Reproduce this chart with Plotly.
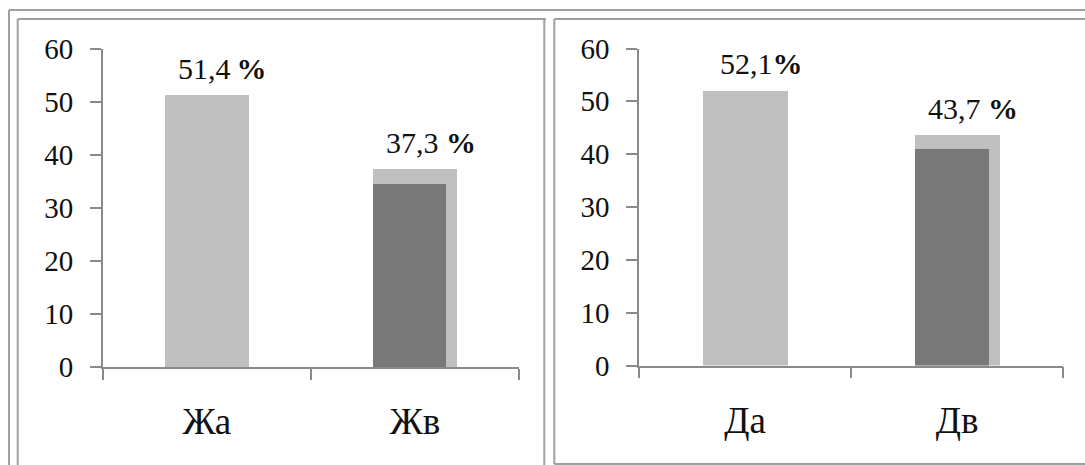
import plotly.graph_objects as go

# Category names for the two panels
categories_left = ["Жа", "Жв"]
categories_right = ["Да", "Дв"]

# Overall share per category (light bars, labelled)
share_left = [51.4, 37.3]
share_right = [52.1, 43.7]

# Inner part shown as a darker bar inside the second category
inner_left = [None, 34.5]
inner_right = [None, 41.1]

# Separator between number and percent sign in each label
label_gap_left = ["\u2009", " "]
label_gap_right = ["", " "]

y_ticks = [0, 10, 20, 30, 40, 50, 60]

W, H = 1085, 465
LIGHT = "#bfbfbf"
DARK = "#787878"
AXIS = "#8a8a8a"
FRAME = "#a0a0a0"
TEXT = "#111111"
FONT = "Liberation Serif, Times New Roman, serif"


def px_x(v):
    return v / W


def px_y(v):
    return 1 - v / H


def fmt(v, gap):
    return f"{v:.1f}".replace(".", ",") + gap + "<b>%</b>"


fig = go.Figure()

panels = [
    ("x", "y", categories_left, share_left, inner_left, label_gap_left),
    ("x2", "y2", categories_right, share_right, inner_right, label_gap_right),
]

for xa, ya, cats, share, inner, gaps in panels:
    fig.add_trace(go.Bar(
        x=cats, y=share, xaxis=xa, yaxis=ya,
        width=0.4, offset=-0.2,
        marker=dict(color=LIGHT, line=dict(width=0)),
        hoverinfo="skip", showlegend=False,
    ))
    fig.add_trace(go.Bar(
        x=cats, y=inner, xaxis=xa, yaxis=ya,
        width=0.35, offset=-0.2,
        marker=dict(color=DARK, line=dict(width=0)),
        hoverinfo="skip", showlegend=False,
    ))
    for c, v, g in zip(cats, share, gaps):
        fig.add_annotation(
            x=c, y=v, xref=xa, yref=ya,
            text=fmt(v, g), showarrow=False,
            xanchor="center", yanchor="bottom",
            xshift=16, yshift=8,
            font=dict(family=FONT, size=30, color=TEXT),
        )

xaxis_common = dict(
    type="category", range=[-0.5, 1.5], tickson="boundaries",
    ticks="outside", ticklen=11, tickcolor=AXIS, tickwidth=1.5,
    showline=True, linecolor=AXIS, linewidth=1.5,
    showgrid=False, zeroline=False, fixedrange=True, automargin=False,
    tickfont=dict(family=FONT, size=37, color=TEXT),
    ticklabelstandoff=21,
)
yaxis_common = dict(
    range=[0, 60], tickvals=y_ticks,
    ticks="outside", ticklen=11, tickcolor=AXIS, tickwidth=1.5,
    showline=True, linecolor=AXIS, linewidth=1.5,
    showgrid=False, zeroline=False, fixedrange=True, automargin=False,
    tickfont=dict(family=FONT, size=29, color=TEXT),
    ticklabelstandoff=11,
)

fig.update_layout(
    width=W, height=H,
    margin=dict(l=0, r=0, t=0, b=0, pad=0, autoexpand=False),
    paper_bgcolor="white", plot_bgcolor="white",
    barmode="overlay", bargap=0, showlegend=False,
    xaxis=dict(domain=[px_x(102.9), px_x(519.0)], anchor="y", **xaxis_common),
    yaxis=dict(domain=[px_y(367.3), px_y(49.0)], anchor="x", **yaxis_common),
    xaxis2=dict(domain=[px_x(639.0), px_x(1063.3)], anchor="y2", **xaxis_common),
    yaxis2=dict(domain=[px_y(365.5), px_y(48.5)], anchor="x2", **yaxis_common),
)

# Double frame around the chart area
frame_lines = [
    (9, 10, 1085, 10),      # outer top
    (9, 10, 9, 465),        # outer left
    (17.7, 19, 546, 19),    # left panel top
    (17.7, 19, 17.7, 465),  # left panel left
    (544.3, 19, 544.3, 465),  # left panel right
    (554.3, 19, 1085, 19),  # right panel top
    (554.3, 19, 554.3, 464),  # right panel left
    (554.3, 464, 1085, 464),  # right panel bottom
]
for x0, y0, x1, y1 in frame_lines:
    fig.add_shape(
        type="line", xref="paper", yref="paper",
        x0=px_x(x0), y0=px_y(y0), x1=px_x(x1), y1=px_y(y1),
        line=dict(color=FRAME, width=2),
    )

fig.write_html("out.html", config={"displayModeBar": False})
